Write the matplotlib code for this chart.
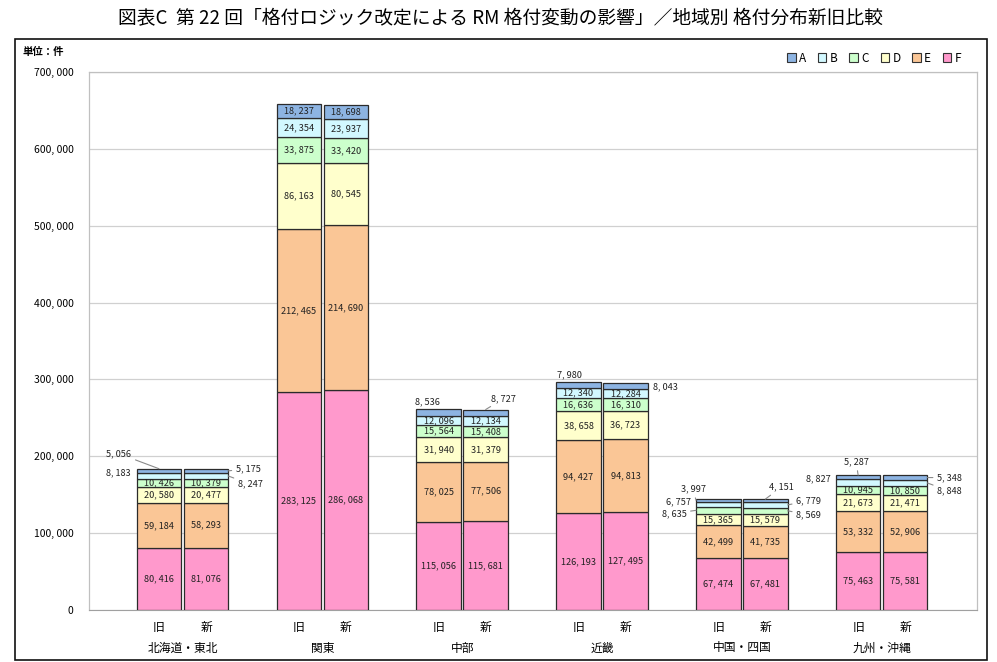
import matplotlib
matplotlib.use("Agg")
import matplotlib.pyplot as plt
from matplotlib.patches import Rectangle

plt.rcParams['font.family'] = ['Noto Sans CJK JP', 'DejaVu Sans']

regions = ["北海道・東北", "関東", "中部", "近畿", "中国・四国", "九州・沖縄"]
versions = ["旧", "新"]
grades = ["A", "B", "C", "D", "E", "F"]
colors = {"A": "#8DB4E2", "B": "#D2F8FF", "C": "#CCFFCC", "D": "#FFFFCC", "E": "#FAC696", "F": "#FF99CC"}

# values per region: (旧, 新), stacked bottom -> top F, E, D, C, B, A
F_vals = [(80416, 81076), (283125, 286068), (115056, 115681), (126193, 127495), (67474, 67481), (75463, 75581)]
E_vals = [(59184, 58293), (212465, 214690), (78025, 77506), (94427, 94813), (42499, 41735), (53332, 52906)]
D_vals = [(20580, 20477), (86163, 80545), (31940, 31379), (38658, 36723), (15365, 15579), (21673, 21471)]
C_vals = [(10426, 10379), (33875, 33420), (15564, 15408), (16636, 16310), (8635, 8569), (10945, 10850)]
B_vals = [(8183, 8247), (24354, 23937), (12096, 12134), (12340, 12284), (6757, 6779), (8827, 8848)]
A_vals = [(5056, 5175), (18237, 18698), (8536, 8727), (7980, 8043), (3997, 4151), (5287, 5348)]

yticks = list(range(0, 700001, 100000))

# labels placed outside: (region, version, grade) -> (anchor, dx, dy pixels, leader line)
# anchor: 'L' left edge of segment, 'R' right edge, 'T' top centre of bar
outside = {
    (0, 0, "A"): ("T", -40, 15, True), (0, 0, "B"): ("L", -18, 3, False),
    (0, 1, "A"): ("R", 20, 2, True), (0, 1, "B"): ("R", 22, -8, True),
    (2, 0, "A"): ("T", -11, 7, False), (2, 1, "A"): ("T", 18, 11, True),
    (3, 0, "A"): ("T", -9, 8, False), (3, 1, "A"): ("R", 18, -1, False),
    (4, 0, "A"): ("L", -3, 11, True), (4, 0, "B"): ("L", -18, 3, False), (4, 0, "C"): ("L", -22, -3, True),
    (4, 1, "A"): ("T", 16, 12, True), (4, 1, "B"): ("R", 21, 4, True), (4, 1, "C"): ("R", 21, -4, True),
    (5, 0, "A"): ("T", -2, 13, True), (5, 0, "B"): ("L", -18, 4, False),
    (5, 1, "A"): ("R", 22, 0, True), (5, 1, "B"): ("R", 22, -8, True),
}

def fmt(v):
    return f"{v:,}".replace(",", ", ")

fig = plt.figure(figsize=(9.97, 6.62), dpi=100)
ax = fig.add_axes([89/997, 1 - 610/662, (977-89)/997, (610-72)/662])

series = {"F": F_vals, "E": E_vals, "D": D_vals, "C": C_vals, "B": B_vals, "A": A_vals}
order = ["F", "E", "D", "C", "B", "A"]
width = 0.955
for gi in range(len(regions)):
    for vi in range(2):
        x = gi * 3 + vi * 1.01
        total = sum(series[g][gi][vi] for g in order)
        bottom = 0
        for g in order:
            v = series[g][gi][vi]
            ax.bar(x, v, width=width, bottom=bottom, color=colors[g],
                   edgecolor="#2b2b2b", linewidth=0.9, zorder=3)
            yc = bottom + v / 2
            key = (gi, vi, g)
            if key in outside:
                anc, dx, dy, line = outside[key]
                if anc == "L":
                    xy = (x - width / 2, yc)
                elif anc == "R":
                    xy = (x + width / 2, yc)
                else:
                    xy = (x, total)
                ax.annotate(fmt(v), xy=xy, xytext=(dx, dy), textcoords="offset pixels",
                            ha="center", va="center", fontsize=6.6, color="#222222",
                            arrowprops=dict(arrowstyle="-", color="#8a8a8a", lw=0.8,
                                            shrinkA=1, shrinkB=0) if line else None,
                            zorder=5, annotation_clip=False)
            else:
                ax.text(x, yc, fmt(v), ha="center", va="center", fontsize=6.6,
                        color="#222222", zorder=4)
            bottom += v

ax.set_xlim(-1.5, 17.55)
ax.set_ylim(0, 700000)
ax.set_yticks(yticks)
ax.set_yticklabels([fmt(t) for t in yticks], fontsize=7.5)
ax.tick_params(axis="y", length=0, pad=11)
ax.set_xticks([])
ax.grid(axis="y", color="#d0d0d0", linewidth=0.9, zorder=0)
for s in ["top", "right", "left"]:
    ax.spines[s].set_color("#c0c0c0")
    ax.spines[s].set_linewidth(0.9)
ax.spines["bottom"].set_color("#a0a0a0")

# category labels
for gi, r in enumerate(regions):
    for vi, vname in enumerate(versions):
        ax.annotate(vname, xy=(gi * 3 + vi * 1.01, 0), xytext=(0, -17), textcoords="offset pixels",
                    ha="center", va="center", fontsize=8.5, annotation_clip=False)
    ax.annotate(r, xy=(gi * 3 + 0.505, 0), xytext=(0, -38), textcoords="offset pixels",
                ha="center", va="center", fontsize=8.5, annotation_clip=False)

# legend
handles = [Rectangle((0, 0), 1, 1, facecolor=colors[g], edgecolor="#333333", linewidth=0.8) for g in grades]
fig.legend(handles, grades, loc="center right", bbox_to_anchor=(972/997, 1 - 58/662), ncol=6,
           frameon=False, fontsize=8.5, handlelength=0.7, handleheight=0.7, handletextpad=0.3,
           columnspacing=1.0)

fig.text(22/997, 1 - 52/662, "単位：件", fontsize=7.5, fontweight="bold", ha="left", va="center")

fig.text(0.502, 1 - 19/662, "図表C  第 22 回「格付ロジック改定による RM 格付変動の影響」／地域別 格付分布新旧比較",
         ha="center", va="center", fontsize=13.5)

# outer border
fig.patches.append(Rectangle((15/997, 1 - 660/662), (987-15)/997, (660-39)/662,
                             transform=fig.transFigure, fill=False, edgecolor="#111111",
                             linewidth=1.2))

fig.savefig("out.png", dpi=100)
